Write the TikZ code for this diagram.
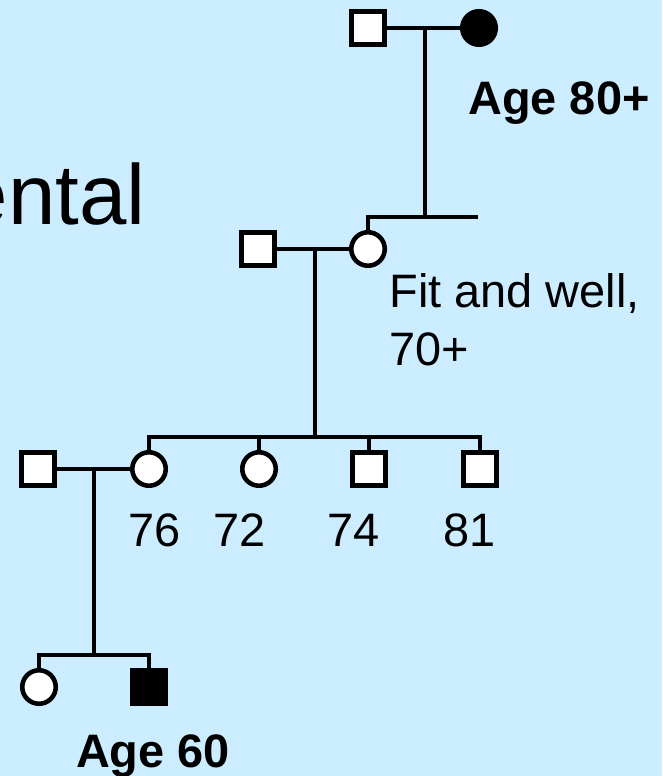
\documentclass[tikz,border=0pt]{standalone}
\usepackage{fontspec}
\setmainfont{Liberation Sans}
\usetikzlibrary{positioning}
\definecolor{pdBlue}{RGB}{204,236,255}
\tikzset{
  male/.style={draw, line width=2.6pt, fill=white, minimum size=0.65cm,
               inner sep=0pt, outer sep=0pt},
  female/.style={male, circle, minimum size=0.67cm},
  affected/.style={fill=black},
  pline/.style={line width=2.6pt},
  age/.style={anchor=base, inner sep=0pt},
}

\begin{document}
\begin{tikzpicture}[x=0.02cm, y=-0.02cm, font=\fontsize{26.7}{32}\selectfont]
    \fill[pdBlue] (0,0) rectangle (662,776);
    \useasboundingbox (0,0) rectangle (662,776);
    % title, runs off the left edge
    \node[anchor=base east, inner sep=0pt, font=\fontsize{48.5}{58}\selectfont]
      (title) at (146,225) {ental};
    % grandparents
    \node[male] (gpM) at (368,28) {};
    \node[female, affected] (gpF) at (479,28) {};
    \draw[pline] (gpM) -- (gpF);
    \coordinate (gpMid) at (425,28);
    \coordinate (gpSib) at (478,217);
    \node[anchor=base west, inner sep=0pt, font=\fontsize{26.7}{32}\bfseries]
      (gpAge) at (468,115) {Age 80+};
    % parents
    \node[male] (paM) at (258,249) {};
    \node[female] (paF) at (368,249) {};
    \draw[pline] (paM) -- (paF);
    \draw[pline] (gpMid) -- (gpMid |- gpSib);
    \draw[pline] (paF) |- (gpSib);
    \node[anchor=base west, inner sep=0pt] (fitA) at (389,308) {Fit and well,};
    \node[anchor=base west, inner sep=0pt] (fitB) at (389,365) {70+};
    \coordinate (paMid) at (315,249);
    \coordinate (paSib) at (315,437);
    % siblings
    \node[female] (k76) at (149,469) {};
    \node[female] (k72) at (259,469) {};
    \node[male] (k74) at (369,469) {};
    \node[male] (k81) at (480,469) {};
    \draw[pline] (paMid) -- (paSib);
    \draw[pline] (k76) |- (paSib) -| (k81);
    \draw[pline] (k72) -- (k72 |- paSib);
    \draw[pline] (k74) -- (k74 |- paSib);
    \node[age] (a76) at (154.5,546) {76};
    \node[age] (a72) at (239.5,546) {72};
    \node[age] (a74) at (354,546) {74};
    \node[age] (a81) at (469.5,546) {81};
    % youngest generation
    \node[male] (spM) at (38,469) {};
    \draw[pline] (spM) -- (k76);
    \coordinate (spMid) at (94,469);
    \coordinate (spSib) at (94,655);
    \node[female] (chF) at (39,687) {};
    \node[male, affected] (chM) at (149,687) {};
    \draw[pline] (spMid) -- (spSib);
    \draw[pline] (chF) |- (spSib) -| (chM);
    \node[age, font=\fontsize{26.7}{32}\bfseries] (chAge) at (153,767) {Age 60};
\end{tikzpicture}
\end{document}
